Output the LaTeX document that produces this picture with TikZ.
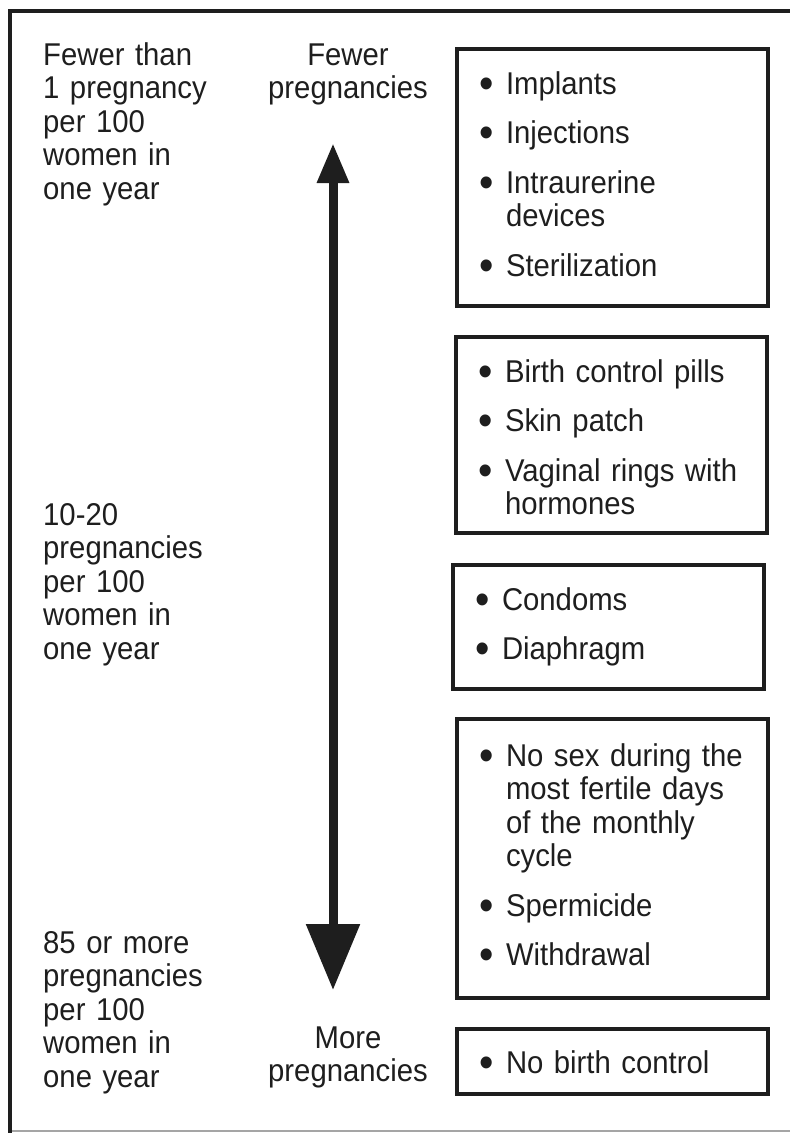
\documentclass[tikz,border=0pt]{standalone}
\usepackage{fontspec}
\setmainfont{Liberation Sans}[FakeStretch=0.93]
\usetikzlibrary{arrows.meta}
\definecolor{Ink}{RGB}{30,30,30}
\definecolor{Rule}{RGB}{165,165,165}
\newcommand{\meth}[1]{\setlength{\parskip}{16pt}\rightskip=-26pt plus 1fil\relax\hangindent=27pt\hangafter=1\noindent\makebox[27pt][l]{\raisebox{-4pt}{\fontsize{44}{0}\selectfont\textbullet}}#1\par}

\begin{document}
\begin{tikzpicture}[x=1pt,y=-1pt,
  txt/.style={font=\fontsize{31.5}{33.5}\selectfont,text=Ink,inner sep=0pt},
  rate/.style={txt,text width=210pt,align=left,anchor=base west},
  trend/.style={txt,text width=170pt,align=center,anchor=base},
  methodbox/.style={txt,draw=Ink,line width=4pt,inner xsep=22pt,inner ysep=0pt,text width=267pt,align=left,text height=45pt,anchor=north west}]
\useasboundingbox (0,0) rectangle (790,1133);
% frame
\draw[Ink,line width=4pt] (10,1133) -- (10,11) -- (790,11);
\draw[Rule,line width=2pt] (12,1131) -- (790,1131);
% rates on the left
\node[rate] (lowrate) at (43,65) {Fewer than\\1 pregnancy\\per 100\\women in\\one year};
\node[rate] (midrate) at (43,525) {10-20\\pregnancies\\per 100\\women in\\one year};
\node[rate] (highrate) at (43,953) {85 or more\\pregnancies\\per 100\\women in\\one year};
% trend arrow
\node[trend] (fewerlbl) at (348,65) {Fewer\\pregnancies};
\node[trend] (morelbl) at (348,1048) {More\\pregnancies};
\coordinate (uptip) at (333,143);
\coordinate (downtip) at (333,990);
\draw[Ink,line width=9pt,{Triangle[width=30pt,length=40pt]}-{Triangle[width=52pt,length=66pt]}] (uptip) -- (downtip);
% methods
\node[methodbox,text depth=212pt] (longacting) at (455,47) {\meth{Implants}\meth{Injections}\meth{Intraurerine\newline devices}\meth{Sterilization}};
\node[methodbox,text depth=151pt] (hormonal) at (454,335) {\meth{Birth control pills}\meth{Skin patch}\meth{Vaginal rings with\newline hormones}};
\node[methodbox,text depth=79pt] (barrier) at (451,563) {\meth{Condoms}\meth{Diaphragm}};
\node[methodbox,text depth=232pt,text height=47pt] (natural) at (455,717) {\meth{No sex during the\newline most fertile days\newline of the monthly\newline cycle}\meth{Spermicide}\meth{Withdrawal}};
\node[methodbox,text depth=21pt,text height=44pt] (nocontrol) at (455,1027) {\meth{No birth control}};
\end{tikzpicture}
\end{document}
